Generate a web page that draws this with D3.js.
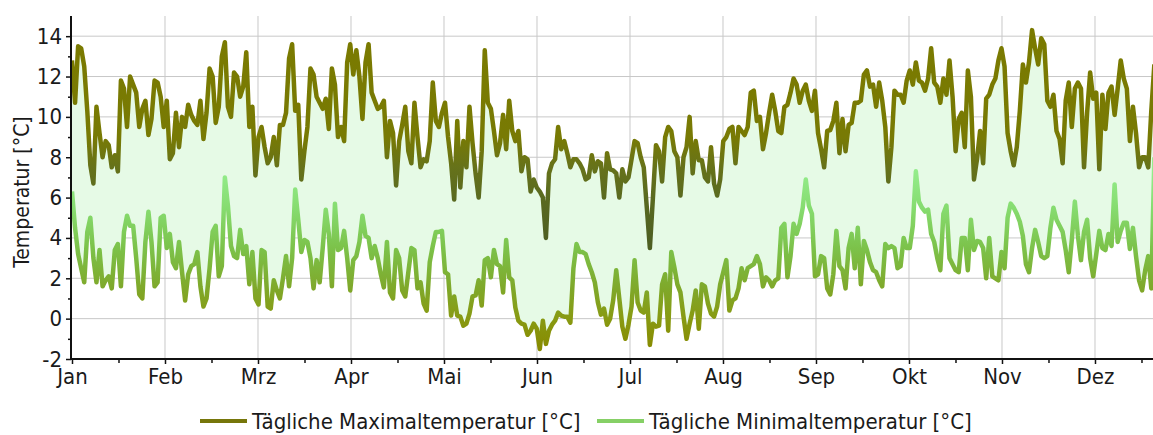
<!DOCTYPE html>
<html>
<head>
<meta charset="utf-8">
<script src="https://cdn.jsdelivr.net/npm/d3@7"></script>
<style>
  body { margin: 0; background: #fff; }
  svg text { font-family: "DejaVu Sans Condensed", "DejaVu Sans", sans-serif; fill: #1a1a1a; }
</style>
</head>
<body>
<svg id="chart" width="1153" height="435"></svg>
<script>
// daily values, day 0 = 1 Jan
var maxTemp = [
	12.8, 10.7, 13.5, 13.4, 12.5, 10.3, 7.6, 6.7, 10.5, 9.2,
	8.0, 8.8, 8.6, 7.5, 8.1, 7.3, 11.8, 11.4, 9.5, 12.0,
	11.6, 11.2, 9.5, 10.4, 10.8, 9.1, 9.9, 11.8, 11.7, 11.0,
	9.5, 10.8, 7.9, 8.2, 10.2, 8.5, 10.0, 9.5, 10.6, 10.1,
	9.8, 9.6, 10.8, 8.9, 10.2, 12.4, 12.0, 9.7, 10.5, 13.0,
	13.7, 10.5, 10.0, 12.2, 12.0, 11.0, 11.5, 13.2, 9.5, 10.5,
	7.1, 9.0, 9.5, 8.5, 7.7, 8.0, 9.0, 7.6, 9.6, 9.6,
	10.2, 12.9, 13.6, 10.3, 10.6, 6.9, 8.3, 9.5, 12.4, 12.1,
	11.0, 10.7, 10.4, 10.9, 9.4, 12.4, 11.6, 9.0, 9.5, 8.8,
	12.7, 13.6, 12.1, 13.3, 12.0, 9.9, 12.7, 13.6, 11.2, 10.8,
	10.4, 10.5, 10.8, 8.0, 9.8, 9.2, 6.6, 8.8, 9.6, 10.5,
	8.3, 7.7, 10.7, 9.0, 7.5, 7.9, 7.8, 8.8, 11.7, 9.8,
	9.5, 10.2, 10.7, 9.0, 7.7, 5.9, 9.8, 6.5, 8.8, 7.5,
	10.5, 8.7, 7.2, 6.0, 8.3, 13.3, 10.7, 10.4, 9.3, 8.1,
	8.7, 10.1, 8.4, 10.8, 9.3, 8.8, 9.3, 7.3, 8.0, 7.9,
	6.3, 6.9, 6.5, 6.3, 6.0, 4.0, 7.2, 7.7, 7.9, 9.5,
	8.4, 8.8, 8.2, 7.5, 7.9, 7.9, 7.7,
	7.4, 6.9, 7.0, 8.1, 7.3, 7.8, 7.7, 6.0, 8.2, 7.4,
	7.35, 7.2, 6.0, 7.4, 6.8, 7.0, 7.9, 8.8, 8.7, 8.0,
	7.5, 5.5, 3.5, 6.0, 8.6, 8.3, 6.8, 9.0, 9.5, 9.3,
	8.3, 8.0, 6.1, 8.0, 8.5, 10.0, 7.2, 8.8, 7.85, 7.85,
	7.0, 6.8, 8.5, 6.7, 6.1, 6.9, 8.8, 9.0, 9.4, 9.5,
	7.7, 9.5, 9.3, 9.1, 9.5, 11.2, 11.3, 9.8, 10.0, 8.4,
	9.2, 10.2, 11.1, 10.3, 9.3, 9.2, 10.5, 10.6, 11.2, 11.9,
	11.6, 10.7, 11.3, 11.6, 10.8, 10.3, 11.3, 9.2, 8.4, 7.5,
	9.3, 9.35, 9.8, 10.7, 8.2, 9.9, 8.3, 9.6, 9.7, 10.7,
	10.7, 10.8, 12.1, 12.3, 11.5, 11.6, 10.5, 11.7, 10.8, 9.5,
	6.8, 8.5, 11.3, 11.1, 11.1, 10.7, 11.8, 12.3, 11.6, 12.7,
	11.8, 11.7, 11.3, 11.9, 13.4, 11.7, 11.5, 10.7, 11.9, 11.1,
	12.8, 11.0, 8.3, 9.9, 10.2, 8.5, 12.3, 11.0, 6.9, 7.9,
	9.3, 7.7, 10.9, 11.1, 11.6, 11.9, 12.8, 13.4, 12.5, 9.2,
	8.3, 7.6, 8.5, 10.3, 12.6, 11.7, 12.7, 14.3, 13.4, 12.6,
	13.9, 13.6, 10.8, 10.5, 11.1, 9.3, 8.9, 7.7, 10.8, 11.7,
	9.5, 11.4, 11.7, 11.4, 7.5, 10.2, 12.2, 10.9, 11.2, 7.4,
	11.1, 9.4, 11.2, 11.5, 10.1, 11.4, 12.8, 11.9, 11.4, 8.8,
	10.5, 9.2, 7.5, 8.0, 8.0, 7.5, 10.3, 12.6
];

var minTemp = [
	6.3, 4.5, 3.2, 2.5, 1.8, 4.3, 5.0, 3.0, 1.8, 3.4,
	1.6, 1.9, 2.1, 1.5, 3.4, 3.7, 1.6, 4.3, 5.1, 4.6,
	4.6, 3.0, 1.2, 1.0, 3.8, 5.3, 3.8, 1.6, 1.8, 5.0,
	5.1, 3.5, 4.2, 2.8, 2.5, 3.8, 2.3, 0.9, 2.2, 2.6,
	2.7, 3.3, 1.6, 0.6, 1.0, 2.5, 4.3, 4.6, 2.1, 2.6,
	7.0, 5.6, 3.6, 3.1, 3.0, 4.4, 3.2, 3.6, 1.7, 3.3,
	1.0, 0.7, 3.4, 3.3, 0.6, 0.5, 1.9, 1.4, 1.0, 2.0,
	3.1, 1.6, 3.0, 6.4, 4.9, 3.3, 3.9, 3.8, 3.0, 1.5,
	2.9, 1.8, 3.5, 5.4, 4.2, 1.6, 5.7, 3.4, 3.5, 4.35,
	3.0, 1.4, 2.9, 3.1, 3.8, 5.1, 4.1, 4.0, 3.0, 3.6,
	3.0, 2.2, 1.55, 3.8, 1.3, 1.0, 3.4, 3.0, 1.4, 1.1,
	2.3, 3.5, 3.4, 1.5, 1.8, 0.75, 0.4, 2.8, 3.6, 4.3,
	4.3, 4.35, 2.3, 2.2, 0.15, 1.1, 0.15, 0.1, -0.35, -0.25,
	0.25, 1.1, 1.15, 1.9, 0.65, 2.9, 3.0, 2.05, 3.4, 2.7,
	2.6, 1.3, 3.9, 2.05, 1.9, 0.55, -0.1, -0.25, -0.3, -0.8,
	-0.6, -0.25, -0.5, -1.5, -0.1, -1.25, -0.6, -0.3, -0.1, 0.3,
	0.15, 0.1, 0.1, -0.2, 2.5, 3.7, 3.3,
	3.3, 3.2, 2.7, 2.3, 1.8, 0.8, 0.2, 0.5, -0.3, 0.0,
	0.9, 2.4, 1.0, -0.4, -1.0, -0.3, 0.6, 2.9, 0.8, 0.4,
	0.3, 1.3, -1.3, -0.25, -0.4, -0.35, 1.7, 2.2, -0.6, 3.3,
	2.55, 1.7, 1.3, 0.1, -1.0, -0.25, 0.4, 1.4, -0.5, 1.7,
	1.6, 0.75, 0.25, 0.1, 0.6, 1.7, 2.3, 2.9, 0.4, 0.9,
	1.0, 1.5, 2.5, 1.9, 2.5, 2.6, 2.7, 3.1, 2.7, 1.6,
	2.05, 1.9, 1.6, 1.9, 2.0, 4.5, 4.7, 2.05, 3.1, 4.7,
	4.2, 4.7, 5.5, 6.9, 5.6, 5.2, 2.1, 2.2, 3.1, 3.0,
	1.5, 1.2, 2.2, 4.35, 2.6, 2.4, 1.5, 3.5, 4.2, 2.5,
	4.5,
	1.7, 3.85, 3.4, 2.8, 2.4, 2.3, 1.9, 1.6, 3.7, 3.5,
	3.6, 3.5, 2.5, 2.6, 4.0, 3.5, 3.5, 4.6, 7.3, 5.8,
	5.5, 5.3, 5.4, 4.2, 3.8, 3.0, 2.4, 5.2, 5.6, 3.0,
	2.7, 2.4, 2.3, 4.0, 4.0, 2.4, 4.9, 3.4, 3.85, 3.8,
	3.5, 2.0, 4.0, 2.1, 2.0, 1.9, 3.3, 2.5, 5.0, 5.7,
	5.5, 5.2, 4.8, 4.1, 2.7, 2.3, 3.5, 4.4, 3.8, 3.1,
	3.0, 3.1, 4.5, 5.5, 4.9, 4.6, 4.3, 3.4, 2.3, 3.9,
	5.8, 4.1, 2.9, 4.3, 4.9, 3.0, 2.1, 3.2, 4.35, 3.5,
	3.4, 4.2, 3.6, 6.65, 3.8, 4.35, 4.75, 4.75, 3.45, 4.5,
	3.1, 1.9, 1.4, 2.4, 3.1, 1.5, 8.0
];

var months = ["Jan", "Feb", "Mrz", "Apr", "Mai", "Jun", "Jul", "Aug", "Sep", "Okt", "Nov", "Dez"];
var yTicks = [-2, 0, 2, 4, 6, 8, 10, 12, 14];
var seriesNames = ["Tägliche Maximaltemperatur [°C]", "Tägliche Minimaltemperatur [°C]"];

var svg = d3.select("#chart"),
	plotLeft = 71,
	plotRight = 1153,
	plotTop = 16,
	plotBottom = 359,
	monthLen = 365 / 12;

var x = d3.scaleLinear().domain([0, 365]).range([72, 72 + 365 * 3.0575]),
	y = d3.scaleLinear().domain([-2, 15]).range([plotBottom, plotTop]);

var days = d3.range(maxTemp.length).map(function(i) {
	return { day: i, max: maxTemp[i], min: minTemp[i] };
});

var defs = svg.append("defs");
defs.append("clipPath").attr("id", "plot-clip")
	.append("rect")
	.attr("x", plotLeft).attr("y", 0)
	.attr("width", plotRight - plotLeft).attr("height", plotBottom + 2);

// colour ramps along the value axis
var addGradient = function(id, stops) {
	var g = defs.append("linearGradient")
		.attr("id", id)
		.attr("gradientUnits", "userSpaceOnUse")
		.attr("x1", 0).attr("x2", 0)
		.attr("y1", y(15)).attr("y2", y(-2));
	stops.forEach(function(s) {
		g.append("stop")
			.attr("offset", (y(s[0]) - y(15)) / (y(-2) - y(15)))
			.attr("stop-color", s[1]);
	});
};
addGradient("max-grad", [[14, "#7a7a00"], [9, "#787a04"], [7.5, "#66721a"], [6, "#5a6a20"], [4, "#4e5f22"]]);
addGradient("min-grad", [[7.5, "#95ee8e"], [5.5, "#86dc70"], [3.5, "#7cc24a"], [1.5, "#7fa82a"], [0, "#889a12"], [-1.5, "#878a00"]]);

// grid
var monthTicks = d3.range(12).map(function(m) { return m * monthLen; });
var grid = svg.append("g").attr("clip-path", "url(#plot-clip)");
grid.selectAll("line.h").data(yTicks.slice(1))
	.enter().append("line")
	.attr("x1", plotLeft).attr("x2", plotRight)
	.attr("y1", function(d) { return y(d); })
	.attr("y2", function(d) { return y(d); })
	.attr("stroke", "#c8c8c8").attr("stroke-width", 1);
grid.selectAll("line.v").data(monthTicks.slice(1))
	.enter().append("line")
	.attr("x1", function(d) { return x(d); })
	.attr("x2", function(d) { return x(d); })
	.attr("y1", plotTop).attr("y2", plotBottom)
	.attr("stroke", "#c8c8c8").attr("stroke-width", 1);

var plot = svg.append("g").attr("clip-path", "url(#plot-clip)");

plot.append("path")
	.datum(days)
	.attr("fill", "#e6fae6")
	.attr("d", d3.area()
		.x(function(d) { return x(d.day); })
		.y0(function(d) { return y(d.min); })
		.y1(function(d) { return y(d.max); }));

plot.append("path")
	.datum(days)
	.attr("fill", "none")
	.attr("stroke", "url(#min-grad)")
	.attr("stroke-width", 4.5)
	.attr("stroke-linejoin", "round")
	.attr("d", d3.line()
		.x(function(d) { return x(d.day); })
		.y(function(d) { return y(d.min); }));

plot.append("path")
	.datum(days)
	.attr("fill", "none")
	.attr("stroke", "url(#max-grad)")
	.attr("stroke-width", 4.5)
	.attr("stroke-linejoin", "round")
	.attr("d", d3.line()
		.x(function(d) { return x(d.day); })
		.y(function(d) { return y(d.max); }));

// axes
var yAxis = svg.append("g")
	.attr("transform", "translate(" + plotLeft + ",0)")
	.call(d3.axisLeft(y).tickValues(yTicks)
		.tickFormat(function(d) { return String(d); })
		.tickSize(5).tickPadding(4).tickSizeOuter(0));
svg.append("g")
	.attr("transform", "translate(" + plotLeft + ",0)")
	.call(d3.axisLeft(y).tickValues(d3.range(-1, 15, 2)).tickSize(3).tickFormat("").tickSizeOuter(0))
	.select(".domain").remove();

var xAxis = svg.append("g")
	.attr("transform", "translate(0," + plotBottom + ")")
	.call(d3.axisBottom(x).tickValues(monthTicks)
		.tickFormat(function(d, i) { return months[i]; })
		.tickSize(5).tickPadding(4).tickSizeOuter(0));
svg.append("g")
	.attr("transform", "translate(0," + plotBottom + ")")
	.call(d3.axisBottom(x).tickValues(monthTicks.map(function(d) { return d + monthLen / 2; }))
		.tickSize(4).tickFormat("").tickSizeOuter(0))
	.select(".domain").remove();

xAxis.select(".domain").attr("d", "M" + plotLeft + ",0H" + plotRight);
yAxis.select(".domain").attr("d", "M0," + plotTop + "V" + plotBottom);

svg.selectAll(".domain").attr("stroke", "#111").attr("stroke-width", 2);
svg.selectAll(".tick line").attr("stroke", "#111").attr("stroke-width", 1.5);
svg.selectAll(".tick text").style("font-size", "22px").attr("fill", "#1a1a1a");

svg.append("text")
	.attr("transform", "translate(29,192) rotate(-90)")
	.attr("text-anchor", "middle")
	.style("font-size", "21px")
	.text("Temperatur [°C]");

// legend
var legend = svg.append("g").attr("transform", "translate(0,421)");
var legendItems = [
	{ name: seriesNames[0], x: 200, color: "#76760a" },
	{ name: seriesNames[1], x: 597, color: "#86d066" }
];
legendItems.forEach(function(d) {
	legend.append("line")
		.attr("x1", d.x).attr("x2", d.x + 47)
		.attr("y1", 0).attr("y2", 0)
		.attr("stroke", d.color).attr("stroke-width", 4);
	legend.append("text")
		.attr("x", d.x + 52).attr("y", 8)
		.style("font-size", "22px")
		.text(d.name);
});
</script>
</body>
</html>
